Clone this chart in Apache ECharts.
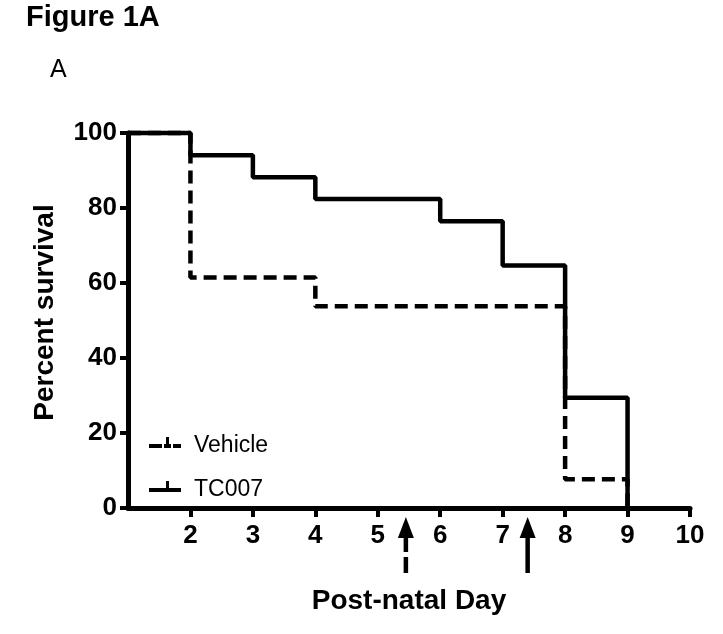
<!DOCTYPE html>
<html>
<head>
<meta charset="utf-8">
<script src="https://cdn.jsdelivr.net/npm/echarts@6/dist/echarts.min.js"></script>
<style>
  html, body { margin: 0; padding: 0; background: #fff; }
  #chart { width: 723px; height: 634px; }
</style>
</head>
<body>
<div id="chart"></div>
<script>
// Kaplan-Meier survival data
const vehicleDays = [1, 2, 4, 8, 9];
const vehicleSurvival = [100, 61.5, 53.8, 7.7, 0];
const tc007Days = [1, 2, 3, 4, 6, 7, 8, 9];
const tc007Survival = [100, 94.1, 88.2, 82.4, 76.5, 64.7, 29.4, 0];

// tick labels
const xTicks = [2, 3, 4, 5, 6, 7, 8, 9, 10];
const yTicks = [0, 20, 40, 60, 80, 100];

// treatment arrows under the x axis (day, dashed?)
const arrowDays = [5.45, 7.4];
const arrowDashed = [1, 0];

const FONT = "'Liberation Sans', Arial, sans-serif";

const chart = echarts.init(document.getElementById('chart'));

// legend icons: line with a small censor tick (empty last subpath keeps the bar centred)
const solidIcon = 'path://M0,7H17V0H20V7H32V11H0Z M32,18L32,18Z';
const dashedIcon = 'path://M0,7H13V11H0Z M15,7H17V0H20V7H22V11H15Z M24,7H32V11H24Z M32,18L32,18Z';

function renderArrow(params, api) {
  const p = api.coord([api.value(0), 0]);
  const dashed = api.value(2) === 1;
  return {
    type: 'group',
    children: [
      {
        type: 'polygon',
        shape: { points: [[p[0], p[1] + 9], [p[0] - 8, p[1] + 30], [p[0] + 8, p[1] + 30]] },
        style: { fill: '#000' },
      },
      {
        type: 'line',
        shape: { x1: p[0], y1: p[1] + 28, x2: p[0], y2: p[1] + 65 },
        style: { stroke: '#000', lineWidth: 4.5, lineDash: dashed ? [16, 5] : null },
      },
    ],
  };
}

const option = {
  animation: false,
  backgroundColor: '#fff',
  title: [
    {
      text: 'Figure 1A',
      left: 26,
      top: 3,
      padding: 0,
      textStyle: { fontFamily: FONT, fontSize: 29, fontWeight: 'bold', color: '#000' },
    },
    {
      text: 'A',
      left: 50,
      top: 58,
      padding: 0,
      textStyle: { fontFamily: FONT, fontSize: 25, fontWeight: 'normal', color: '#000' },
    },
  ],
  legend: {
    orient: 'vertical',
    left: 144,
    top: 429,
    itemWidth: 32,
    itemHeight: 18,
    itemGap: 20,
    data: [
      { name: 'Vehicle', icon: dashedIcon },
      { name: 'TC007', icon: solidIcon },
    ],
    textStyle: { fontFamily: FONT, fontSize: 23, color: '#000', lineHeight: 24, padding: [0, 0, 0, 8] },
  },
  grid: {
    left: 128,
    right: 33,
    top: 133,
    bottom: 126,
  },
  xAxis: {
    type: 'value',
    min: 1,
    max: 10,
    interval: 1,
    name: 'Post-natal Day',
    nameLocation: 'middle',
    nameGap: 79,
    nameTextStyle: { fontFamily: FONT, fontSize: 28, fontWeight: 'bold', color: '#000' },
    axisLine: { onZero: false, lineStyle: { color: '#000', width: 5 } },
    axisTick: { show: true, length: 9, customValues: xTicks, lineStyle: { color: '#000', width: 4 } },
    axisLabel: {
      customValues: xTicks,
      margin: 15,
      fontFamily: FONT,
      fontSize: 26,
      fontWeight: 'bold',
      color: '#000',
    },
    splitLine: { show: false },
  },
  yAxis: {
    type: 'value',
    min: 0,
    max: 100,
    interval: 20,
    name: 'Percent survival',
    nameLocation: 'middle',
    nameGap: 69,
    nameTextStyle: { fontFamily: FONT, fontSize: 28, fontWeight: 'bold', color: '#000', padding: [0, 0, 0, 16] },
    axisLine: { show: true, lineStyle: { color: '#000', width: 5 } },
    axisTick: { show: true, length: 8, customValues: yTicks, lineStyle: { color: '#000', width: 4 } },
    axisLabel: {
      customValues: yTicks,
      margin: 11,
      fontFamily: FONT,
      fontSize: 26,
      fontWeight: 'bold',
      color: '#000',
    },
    splitLine: { show: false },
  },
  series: [
    {
      name: 'Vehicle',
      type: 'line',
      step: 'end',
      symbol: 'none',
      clip: false,
      data: vehicleDays.map((d, i) => [d, vehicleSurvival[i]]),
      lineStyle: { color: '#000', width: 4.5, type: [13, 7] },
      itemStyle: { color: '#000' },
      z: 2,
    },
    {
      name: 'TC007',
      type: 'line',
      step: 'end',
      symbol: 'none',
      clip: false,
      data: tc007Days.map((d, i) => [d, tc007Survival[i]]),
      lineStyle: { color: '#000', width: 4.5 },
      itemStyle: { color: '#000' },
      z: 3,
    },
    {
      name: 'arrows',
      type: 'custom',
      clip: false,
      silent: true,
      renderItem: renderArrow,
      encode: { x: 0, y: 1 },
      data: arrowDays.map((d, i) => [d, 0, arrowDashed[i]]),
    },
  ],
};

chart.setOption(option);
</script>
</body>
</html>
